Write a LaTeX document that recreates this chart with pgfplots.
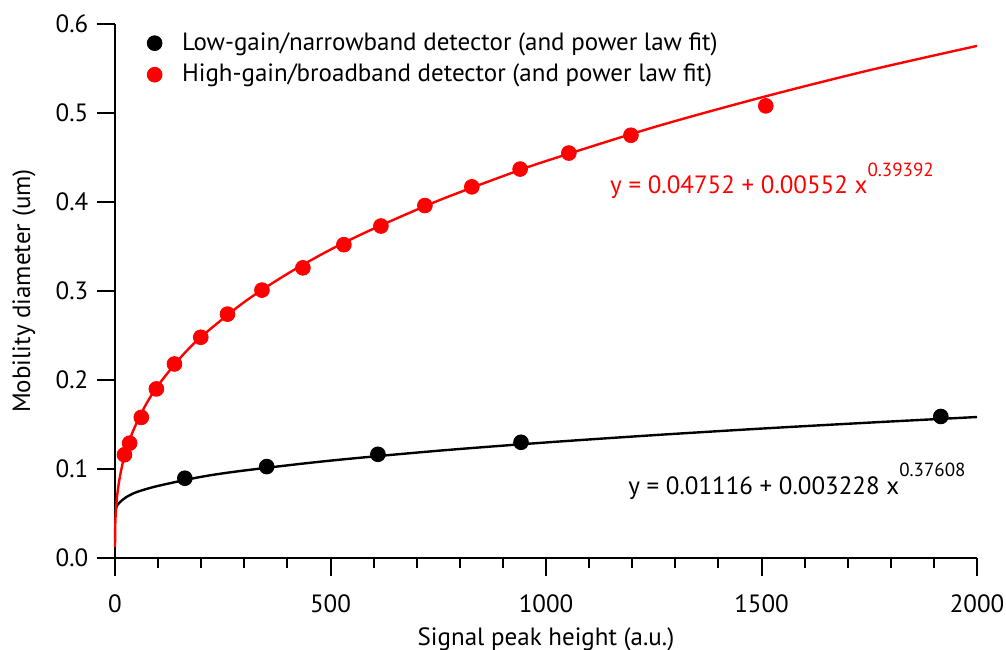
\documentclass[border=0pt]{standalone}
\usepackage{fontspec}
\setmainfont{PT Sans}
\usepackage{pgfplots}
\pgfplotsset{compat=1.18}

% measured points
\pgfplotstableread{
x y
162 0.0896
352 0.1027
610 0.1165
942 0.1300
1916 0.1590
}\lowgain
\pgfplotstableread{
x y
22 0.116
34 0.129
61 0.158
96 0.190
138 0.218
199 0.248
261 0.274
341 0.301
436 0.326
531 0.352
617 0.373
719 0.396
828 0.417
940 0.437
1053 0.455
1197 0.475
1510 0.508
}\highgain
% fit curves
\pgfplotstableread{
x y
0 0.049
3 0.057
10 0.062
25 0.068
50 0.074
100 0.081
200 0.0912
300 0.0983
500 0.1094
750 0.1205
1000 0.1298
1250 0.1380
1500 0.1454
1750 0.1521
2000 0.1584
}\lowfit
\pgfplotstableread{
x y
0 0.012
0.5 0.035
1 0.0427
2 0.0524
5 0.0698
10 0.0875
20 0.1106
40 0.1404
70 0.1709
100 0.1939
150 0.2241
200 0.2485
300 0.2876
400 0.3193
500 0.3465
600 0.3700
750 0.4015
900 0.4290
1000 0.4460
1250 0.4840
1500 0.5175
1750 0.5480
2000 0.5754
}\highfit

\begin{document}
\fontsize{12.5}{15}\selectfont
\begin{tikzpicture}
\begin{axis}[
  scale only axis,
  width=431pt, height=267pt,
  xmin=0, xmax=2000, ymin=0, ymax=0.6,
  axis lines*=left,
  axis line style={line width=1.3pt},
  tick align=outside,
  major tick length=9pt, minor tick length=5pt,
  tick style={line width=1pt, black},
  xtick={0,500,...,2000},
  minor x tick num=4,
  ytick={0,0.1,...,0.6},
  scaled x ticks=false, scaled y ticks=false,
  /pgf/number format/assume math mode=true,
  /pgf/number format/1000 sep={},
  yticklabel style={/pgf/number format/.cd, fixed, fixed zerofill, precision=1},
  xticklabel style={yshift=-5pt},
  xlabel={Signal peak height (a.u.)},
  ylabel={Mobility diameter (um)},
  xlabel style={at={(axis description cs:0.5,-0.152)}, anchor=center},
  ylabel style={at={(axis description cs:-0.1056,0.5)}, anchor=center},
  legend style={at={(axis description cs:0.03,1.0)}, anchor=north west,
    draw=none, fill=none, row sep=1pt, column sep=8pt,
    font=\fontsize{12.5}{15}\selectfont},
  legend cell align=left,
  clip=false,
]
\addplot[only marks, mark=*, mark size=3.7pt, black] table {\lowgain};
\addlegendentry{Low-gain/narrowband detector (and power law fit)}
\addplot[only marks, mark=*, mark size=3.7pt, red, mark options={fill=red}] table {\highgain};
\addlegendentry{High-gain/broadband detector (and power law fit)}
\addplot[forget plot, black, line width=1.2pt, smooth] table {\lowfit};
\addplot[forget plot, red, line width=1.2pt, smooth] table {\highfit};

\node[anchor=west, text=red, inner sep=0pt] at (axis cs:1148,0.424)
  {y = 0.04752 + 0.00552 x\raisebox{1.4ex}{\fontsize{9.5}{10}\selectfont 0.39392}};
\node[anchor=west, text=black, inner sep=0pt] at (axis cs:1190,0.086)
  {y = 0.01116 + 0.003228 x\raisebox{1.4ex}{\fontsize{9.5}{10}\selectfont 0.37608}};
\end{axis}
\pgfresetboundingbox
\path ([shift={(-57.5pt,-46pt)}]current axis.south west)
  rectangle ([shift={(14.5pt,12pt)}]current axis.north east);
\end{tikzpicture}
\end{document}
